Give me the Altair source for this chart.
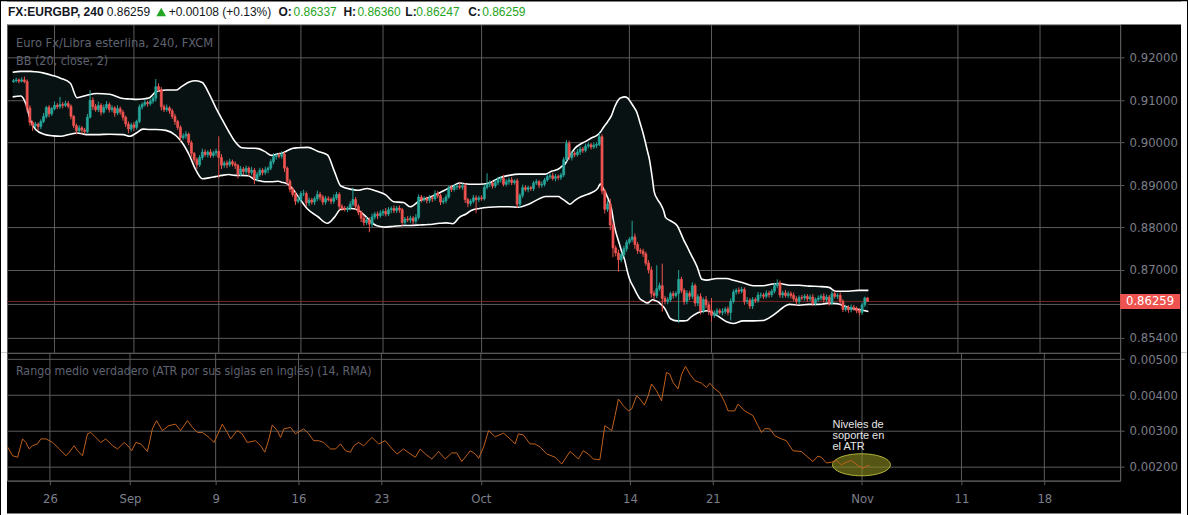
import altair as alt
import pandas as pd

# ---------------- data ----------------
FIRST_BAR = -15          # bar index of first visible 4h candle (bar 0 = Mon 26 Aug)
FIRST_OPEN = 9144        # open of the first candle, in pips (x1e-4)

# closes in pips (price * 10000), one per 4h bar, bars -15 .. 297
close_pips = [
    9146, 9148, 9145, 9148, 9144, 9082, 9048, 9040, 9044, 9038,
    9050, 9062, 9083, 9068, 9080, 9088, 9085, 9090, 9088, 9092,
    9086, 9062, 9040, 9028, 9035, 9030, 9026, 9060, 9100, 9085,
    9078, 9088, 9072, 9083, 9090, 9078, 9082, 9070, 9080, 9072,
    9060, 9044, 9032, 9042, 9036, 9050, 9084, 9090, 9095, 9092,
    9098, 9105, 9132, 9125, 9085, 9078, 9082, 9075, 9062, 9050,
    9036, 9012, 9016, 9020, 9000, 8975, 8960, 8948, 8965, 8978,
    8972, 8978, 8970, 8976, 8980, 8965, 8947, 8952, 8948, 8955,
    8950, 8946, 8926, 8938, 8932, 8940, 8930, 8935, 8915, 8925,
    8935, 8930, 8936, 8940, 8955, 8967, 8970, 8968, 8973, 8940,
    8909, 8890, 8878, 8862, 8866, 8880, 8880, 8858, 8865, 8860,
    8868, 8878, 8872, 8860, 8868, 8866, 8862, 8870, 8878, 8850,
    8845, 8843, 8846, 8855, 8866, 8850, 8836, 8822, 8812, 8818,
    8808, 8825, 8832, 8828, 8834, 8838, 8832, 8842, 8845, 8840,
    8846, 8842, 8812, 8820, 8818, 8822, 8815, 8824, 8872, 8866,
    8868, 8864, 8870, 8868, 8880, 8875, 8860, 8863, 8872, 8894,
    8890, 8896, 8898, 8895, 8899, 8866, 8857, 8862, 8870, 8866,
    8870, 8868, 8895, 8902, 8905, 8898, 8906, 8914, 8916, 8902,
    8908, 8912, 8906, 8910, 8855, 8876, 8894, 8890, 8894, 8892,
    8905, 8908, 8900, 8902, 8912, 8920, 8922, 8916, 8920, 8918,
    8924, 8960, 8998, 8965, 8975, 8972, 8978, 8985, 8982, 8992,
    8995, 8990, 8994, 8996, 9014, 8886, 8843, 8856, 8806, 8752,
    8740, 8724, 8736, 8750, 8765, 8772, 8778, 8760, 8746, 8744,
    8738, 8716, 8700, 8645, 8640, 8656, 8663, 8633, 8626, 8630,
    8644, 8640, 8645, 8678, 8652, 8626, 8645, 8638, 8663, 8622,
    8637, 8604, 8630, 8618, 8604, 8593, 8598, 8604, 8600, 8602,
    8608, 8600, 8626, 8648, 8652, 8650, 8654, 8626, 8628, 8615,
    8630, 8628, 8641, 8641, 8638, 8645, 8642, 8650, 8663, 8669,
    8641, 8646, 8640, 8644, 8640, 8632, 8626, 8635, 8634, 8638,
    8632, 8636, 8622, 8630, 8634, 8638, 8630, 8636, 8622, 8644,
    8638, 8640, 8626, 8607, 8612, 8606, 8612, 8609, 8604, 8600,
    8618, 8634, 8626,
]
# wick lengths beyond the body, in pips
upper_wick = [
    4, 5, 3, 6, 8, 5, 6, 4, 5, 3,
    5, 8, 4, 6, 4, 9, 5, 18, 6, 7,
    6, 4, 3, 5, 6, 4, 5, 8, 24, 7,
    6, 9, 5, 7, 8, 5, 6, 4, 8, 5,
    5, 4, 6, 5, 7, 4, 6, 5, 7, 4,
    6, 5, 18, 8, 6, 5, 8, 4, 5, 6,
    4, 5, 6, 7, 4, 5, 3, 5, 6, 8,
    6, 4, 7, 5, 6, 35, 8, 5, 6, 7,
    5, 6, 4, 7, 5, 6, 4, 8, 5, 6,
    6, 5, 7, 4, 6, 8, 5, 6, 7, 5,
    4, 5, 6, 7, 8, 6, 9, 5, 6, 5,
    5, 9, 6, 5, 7, 6, 5, 8, 6, 5,
    5, 6, 4, 7, 28, 6, 5, 4, 6, 7,
    6, 8, 5, 6, 7, 5, 8, 6, 5, 7,
    5, 6, 4, 5, 7, 6, 5, 8, 6, 5,
    6, 5, 7, 5, 8, 6, 5, 7, 6, 5,
    5, 6, 5, 7, 5, 6, 4, 5, 7, 6,
    5, 6, 7, 26, 6, 5, 7, 6, 5, 8,
    6, 5, 7, 4, 6, 5, 7, 6, 5, 4,
    5, 6, 4, 7, 5, 6, 5, 7, 6, 5,
    5, 6, 8, 7, 6, 5, 7, 6, 5, 6,
    6, 5, 7, 5, 9, 6, 5, 8, 12, 8,
    6, 8, 5, 7, 6, 5, 38, 8, 6, 5,
    6, 5, 7, 8, 6, 55, 7, 52, 6, 6,
    5, 6, 5, 22, 6, 5, 7, 6, 8, 5,
    6, 8, 5, 9, 6, 30, 7, 6, 5, 8,
    5, 6, 7, 6, 5, 7, 6, 5, 8, 6,
    6, 5, 7, 6, 5, 7, 6, 5, 7, 9,
    6, 5, 7, 6, 5, 7, 6, 5, 6, 5,
    5, 6, 7, 5, 6, 5, 7, 6, 5, 6,
    6, 5, 7, 5, 6, 5, 7, 6, 5, 6,
    5, 3, 2,
]
lower_wick = [
    3, 4, 5, 3, 4, 10, 8, 12, 6, 9,
    6, 4, 5, 8, 5, 4, 6, 5, 7, 4,
    5, 7, 6, 8, 5, 9, 6, 4, 3, 8,
    5, 6, 8, 4, 5, 7, 6, 9, 5, 6,
    8, 7, 10, 6, 9, 5, 4, 6, 5, 7,
    5, 6, 8, 5, 9, 6, 5, 7, 6, 8,
    6, 8, 5, 7, 6, 9, 7, 10, 5, 6,
    5, 7, 6, 5, 8, 48, 9, 6, 8, 5,
    6, 8, 10, 5, 7, 6, 9, 6, 13, 7,
    5, 7, 6, 8, 5, 6, 7, 5, 6, 9,
    8, 7, 6, 9, 5, 7, 6, 8, 7, 6,
    7, 6, 8, 7, 6, 5, 7, 6, 5, 8,
    6, 5, 7, 6, 5, 8, 7, 9, 8, 6,
    19, 7, 6, 8, 5, 7, 6, 5, 8, 6,
    6, 7, 8, 6, 5, 7, 9, 6, 5, 7,
    5, 7, 6, 8, 5, 6, 7, 5, 6, 4,
    6, 5, 7, 5, 6, 8, 9, 6, 5, 32,
    6, 5, 4, 5, 7, 6, 5, 6, 8, 5,
    5, 7, 6, 5, 9, 8, 6, 5, 7, 6,
    6, 5, 7, 6, 5, 4, 6, 5, 7, 6,
    6, 5, 4, 6, 7, 6, 5, 7, 6, 5,
    5, 6, 5, 7, 4, 8, 10, 6, 12, 22,
    8, 28, 6, 5, 7, 5, 6, 10, 8, 6,
    7, 6, 8, 10, 9, 6, 5, 31, 7, 7,
    6, 7, 5, 70, 6, 8, 7, 9, 6, 8,
    7, 9, 6, 8, 10, 14, 6, 8, 5, 7,
    6, 7, 19, 5, 6, 7, 5, 8, 6, 7,
    7, 6, 5, 7, 6, 5, 7, 6, 5, 6,
    6, 7, 5, 6, 7, 5, 8, 6, 5, 6,
    6, 5, 7, 6, 5, 6, 7, 5, 6, 5,
    5, 6, 7, 6, 5, 7, 6, 5, 6, 7,
    6, 5, 1,
]

# Bollinger bands (20, close, 2): bar, upper, lower (pips)
bb_bar = [
    -15.3, -12.3, -10.5, -8.7, -6.9, -3.9, -0.5, 2.2, 5.8, 8.2,
    11.8, 15.4, 20.2, 25.1, 27.5, 29.9, 32.3, 34.7, 37.1, 40.7,
    44.3, 46.4, 49.2, 51.6, 54.0, 56.4, 58.8, 61.2, 63.6, 66.0,
    68.4, 70.8, 73.2, 74.4, 76.9, 79.3, 81.7, 82.9, 85.3, 87.1,
    88.9, 92.5, 96.1, 99.7, 102.2, 104.6, 108.5, 111.2, 114.2, 117.5,
    121.0, 123.9, 127.5, 129.9, 133.5, 136.5, 140.7, 143.1, 145.5, 147.9,
    150.3, 152.2, 155.2, 158.8, 162.4, 166.0, 169.6, 173.2, 176.8, 179.3,
    181.7, 184.1, 185.3, 186.5, 187.7, 188.3, 190.1, 192.5, 193.7, 196.1,
    198.5, 199.4, 200.3, 202.1, 203.4, 204.6, 206.4, 207.0, 208.2, 209.4,
    210.0, 211.8, 212.4, 214.2, 214.8, 216.6, 217.2, 218.4, 219.0, 220.2,
    221.4, 222.6, 223.2, 225.0, 227.4, 229.9, 231.1, 232.3, 234.7, 236.5,
    238.3, 241.9, 245.5, 247.9, 251.5, 255.2, 258.8, 262.4, 264.8, 266.0,
    268.4, 272.0, 275.6, 279.3, 282.9, 285.3, 286.5, 290.1, 293.7, 297.3,
]
bb_upper = [
    9166, 9168, 9168, 9168, 9167, 9164, 9158, 9152, 9140, 9106,
    9112, 9116, 9114, 9104, 9103, 9102, 9103, 9106, 9120, 9124,
    9124, 9132, 9143, 9146, 9142, 9116, 9084, 9055, 9027, 9002,
    8988, 8987, 8987, 8986, 8979, 8970, 8974, 8975, 8982, 8987,
    8988, 8989, 8980, 8971, 8933, 8898, 8890, 8888, 8892, 8886,
    8877, 8861, 8859, 8849, 8864, 8870, 8882, 8890, 8898, 8905,
    8903, 8902, 8902, 8905, 8917, 8923, 8926, 8926, 8926, 8926,
    8933, 8938, 8944, 8950, 8964, 8970, 8987, 8998, 9002, 9011,
    9019, 9025, 9034, 9050, 9063, 9084, 9104, 9106, 9108, 9105,
    9100, 9082, 9076, 9040, 9027, 8980, 8964, 8915, 8886, 8867,
    8855, 8838, 8824, 8816, 8805, 8770, 8755, 8739, 8708, 8678,
    8676, 8680, 8680, 8676, 8670, 8663, 8663, 8667, 8668, 8667,
    8664, 8664, 8662, 8661, 8659, 8650, 8650, 8650, 8652, 8652,
]
bb_lower = [
    9108, 9110, 9092, 9051, 9031, 9020, 9016, 9015, 9020, 9023,
    9019, 9019, 9020, 9019, 9015, 9023, 9032, 9031, 9031, 9029,
    9017, 9002, 8971, 8936, 8915, 8917, 8920, 8923, 8925, 8923,
    8923, 8922, 8913, 8911, 8908, 8908, 8909, 8907, 8902, 8890,
    8874, 8843, 8826, 8810, 8824, 8843, 8845, 8840, 8823, 8805,
    8801, 8803, 8805, 8805, 8806, 8807, 8810, 8811, 8809, 8824,
    8832, 8840, 8845, 8848, 8849, 8849, 8848, 8855, 8867, 8873,
    8873, 8873, 8868, 8863, 8857, 8855, 8864, 8873, 8876, 8882,
    8893, 8903, 8894, 8870, 8845, 8801, 8760, 8747, 8725, 8693,
    8680, 8656, 8648, 8630, 8628, 8622, 8624, 8630, 8629, 8626,
    8620, 8612, 8606, 8585, 8580, 8580, 8581, 8588, 8598, 8602,
    8604, 8593, 8578, 8574, 8580, 8580, 8581, 8593, 8605, 8611,
    8619, 8617, 8619, 8619, 8622, 8621, 8620, 8611, 8607, 8602,
]

# ATR (14, RMA): bar, value (x1e-5)
atr_bar = [
    -15.3, -13.5, -11.7, -9.9, -8.7, -7.5, -6.3, -4.5, -3.3, -1.4,
    1.0, 3.4, 5.8, 7.0, 8.8, 10.0, 11.8, 13.6, 14.8, 16.6,
    18.4, 20.2, 22.7, 24.5, 26.9, 28.7, 29.6, 31.1, 32.9, 35.3,
    37.1, 38.6, 40.7, 43.1, 45.5, 47.3, 49.8, 51.6, 53.4, 55.2,
    57.6, 59.4, 62.4, 64.2, 65.4, 67.8, 69.6, 71.4, 74.4, 76.3,
    77.8, 79.3, 80.5, 82.3, 83.5, 84.7, 87.1, 88.9, 91.9, 93.7,
    95.5, 97.3, 99.1, 101.6, 103.4, 105.2, 107.0, 108.8, 110.0, 111.8,
    113.6, 116.6, 119.0, 121.4, 123.9, 125.7, 128.0, 130.5, 132.3, 134.1,
    135.9, 138.3, 140.7, 143.1, 145.5, 147.3, 149.1, 152.2, 154.0, 155.2,
    157.0, 158.8, 161.2, 164.2, 166.6, 168.4, 169.6, 171.4, 173.8, 175.6,
    177.5, 179.9, 182.9, 185.3, 188.3, 190.1, 191.3, 193.1, 194.9, 196.7,
    199.1, 200.9, 203.4, 204.6, 205.8, 207.6, 209.4, 210.6, 212.4, 213.6,
    215.2, 216.6, 217.8, 219.6, 221.4, 223.2, 224.4, 225.6, 227.4, 228.7,
    230.1, 231.7, 233.5, 235.9, 237.7, 238.9, 240.7, 242.5, 244.3, 245.5,
    247.9, 249.1, 251.5, 254.5, 256.3, 257.6, 258.8, 260.6, 262.4, 264.8,
    266.6, 269.0, 272.0, 273.8, 276.2, 278.0, 279.3, 281.1, 282.9, 284.7,
    286.5, 288.3, 290.1, 292.5, 294.3, 295.5, 296.7,
]
atr_val = [
    255, 231, 227, 278, 268, 250, 259, 264, 278, 278,
    268, 250, 231, 241, 259, 245, 231, 292, 296, 282,
    268, 278, 259, 250, 268, 255, 245, 268, 264, 243,
    306, 329, 301, 315, 319, 301, 329, 310, 296, 296,
    282, 268, 319, 296, 278, 301, 292, 268, 273, 259,
    241, 278, 317, 301, 282, 306, 310, 292, 306, 292,
    273, 273, 268, 250, 250, 264, 245, 241, 259, 268,
    259, 282, 264, 273, 250, 236, 250, 236, 227, 250,
    236, 222, 243, 222, 239, 239, 215, 245, 236, 224,
    255, 301, 284, 294, 278, 264, 292, 289, 264, 264,
    255, 236, 227, 208, 243, 231, 222, 245, 236, 222,
    220, 315, 301, 343, 389, 370, 356, 361, 398, 389,
    372, 398, 431, 412, 384, 463, 458, 435, 417, 458,
    480, 458, 440, 433, 421, 433, 417, 407, 380, 356,
    356, 375, 356, 343, 315, 296, 307, 306, 287, 278,
    273, 245, 243, 231, 215, 230, 227, 211, 213, 218,
    206, 213, 218, 204, 196, 202, 204,
]

x_tick_bars = [0, 29, 60, 90, 120, 156, 210, 240, 294, 330, 360]
x_tick_labels = ["26", "Sep", "9", "16", "23", "Oct", "14", "21", "Nov", "11", "18"]
price_ticks = [0.92, 0.91, 0.90, 0.89, 0.88, 0.87, 0.862, 0.854]
hidden_price_tick = 0.862        # its label sits under the last-price marker
atr_ticks = [0.005, 0.004, 0.003, 0.002]
last_price = 0.86259
note_bar, note_atr = 283.3, 0.00334        # annotation text anchor
ellipse_bar, ellipse_atr = 293.8, 0.00206  # highlighted ATR support zone

assert len(close_pips) == len(upper_wick) == len(lower_wick)
assert len(bb_bar) == len(bb_upper) == len(bb_lower)
assert len(atr_bar) == len(atr_val)

# ---------------- frames ----------------
rows = []
prev = FIRST_OPEN
for i, c in enumerate(close_pips):
    o = prev
    rows.append(dict(
        bar=FIRST_BAR + i, open=o / 1e4, close=c / 1e4,
        high=(max(o, c) + upper_wick[i]) / 1e4,
        low=(min(o, c) - lower_wick[i]) / 1e4,
        dir="up" if c >= o else "down"))
    prev = c
candles = pd.DataFrame(rows)
bb = pd.DataFrame({"bar": bb_bar, "upper": [v / 1e4 for v in bb_upper],
                   "lower": [v / 1e4 for v in bb_lower]})
atr = pd.DataFrame({"bar": atr_bar, "atr": [v / 1e5 for v in atr_val]})
ticks = pd.DataFrame({"bar": x_tick_bars})
lastp = pd.DataFrame({"price": [last_price]})
note = pd.DataFrame({"bar": [note_bar], "atr": [note_atr]})
ell = pd.DataFrame({"bar": [ellipse_bar], "atr": [ellipse_atr]})
one = pd.DataFrame({"k": [0]})

# ---------------- style ----------------
W, H_MAIN, H_ATR = 1115, 329, 128
GRID = "#5c5c5c"
AXTXT = "#7c7f8a"
TITLETXT = "#5f6370"
UP, DOWN = "#26a69a", "#ef5350"
HDR_GREEN = "#24a524"
FONT = "Liberation Sans"
NARROW = "Liberation Sans Narrow, DejaVu Sans Condensed, sans-serif"

xs = alt.Scale(domain=[-15.54, 387.43], nice=False, zero=False)
ys = alt.Scale(domain=[0.85047, 0.92788], nice=False, zero=False)
ya = alt.Scale(domain=[0.001619, 0.005175], nice=False, zero=False)
col = alt.Scale(domain=["up", "down"], range=[UP, DOWN])

yaxis_main = alt.Axis(orient="right", values=price_ticks, format=".5f", title=None,
                      labelExpr="abs(datum.value - %s) < 1e-9 ? '' : datum.label" % hidden_price_tick,
                      grid=True, gridColor=GRID, gridWidth=1, domainColor=GRID,
                      tickColor=GRID, tickSize=4, labelPadding=5, labelColor=AXTXT,
                      labelFont=NARROW, labelFontSize=13, labelOverlap=False)
yaxis_atr = alt.Axis(orient="right", values=atr_ticks, format=".5f", title=None,
                     grid=True, gridColor=GRID, gridWidth=1, domainColor=GRID,
                     tickColor=GRID, tickSize=4, labelPadding=5, labelColor=AXTXT,
                     labelFont=NARROW, labelFontSize=13, labelOverlap=False)
lbl_expr = "[{}][indexof([{}], datum.value)]".format(
    ",".join("'%s'" % s for s in x_tick_labels), ",".join(str(v) for v in x_tick_bars))
xaxis_atr = alt.Axis(values=x_tick_bars, labelExpr=lbl_expr, title=None, grid=False,
                     domainColor=GRID, tickColor=GRID, tickSize=4, labelPadding=8,
                     labelColor=AXTXT, labelFont=NARROW, labelFontSize=13,
                     labelOverlap=False)


def txt(s, x, y, color, size=12, weight="normal", font=FONT, align="left", baseline="middle"):
    return alt.Chart(one).mark_text(
        text=s, align=align, baseline=baseline, font=font, fontSize=size,
        fontWeight=weight, color=color).encode(x=alt.value(x), y=alt.value(y))


def box(x1, x2, y1, y2, color):
    return alt.Chart(one).mark_rect(color=color).encode(
        x=alt.value(x1), x2=alt.value(x2), y=alt.value(y1), y2=alt.value(y2))


X = lambda f="bar": alt.X(f + ":Q", scale=xs, axis=None, title=None)

# ---------------- main panel ----------------
vgrid_main = alt.Chart(ticks).mark_rule(color=GRID, strokeWidth=1).encode(x=X())
bb_fill = alt.Chart(bb).mark_area(color="#081212", interpolate="monotone").encode(
    x=X(), y=alt.Y("upper:Q", scale=ys, axis=yaxis_main, title=None), y2="lower:Q")
price_line = alt.Chart(lastp).mark_rule(color="#7a2727", strokeWidth=1).encode(
    y=alt.Y("price:Q", scale=ys, axis=yaxis_main, title=None))
bb_up = alt.Chart(bb).mark_line(color="white", strokeWidth=1.6, interpolate="monotone").encode(
    x=X(), y=alt.Y("upper:Q", scale=ys, axis=yaxis_main, title=None))
bb_lo = alt.Chart(bb).mark_line(color="white", strokeWidth=1.6, interpolate="monotone").encode(
    x=X(), y=alt.Y("lower:Q", scale=ys, axis=yaxis_main, title=None))
wicks = alt.Chart(candles).mark_rule(strokeWidth=1).encode(
    x=X(), y=alt.Y("low:Q", scale=ys, axis=yaxis_main, title=None), y2="high:Q",
    color=alt.Color("dir:N", scale=col, legend=None))
bodies = alt.Chart(candles).mark_bar(size=2.0, strokeWidth=0.7).encode(
    x=X(), y=alt.Y("open:Q", scale=ys, axis=yaxis_main, title=None), y2="close:Q",
    color=alt.Color("dir:N", scale=col, legend=None),
    stroke=alt.Stroke("dir:N", scale=col, legend=None))
price_box = alt.Chart(lastp).mark_point(
    shape="M-1,-0.25L1,-0.25L1,0.25L-1,0.25Z", size=3600, filled=True,
    fill=DOWN, stroke=DOWN, strokeWidth=0, opacity=1).encode(
    x=alt.value(1145), y=alt.Y("price:Q", scale=ys, axis=yaxis_main, title=None))
price_txt = alt.Chart(lastp).mark_text(
    color="white", font=NARROW, fontSize=13, align="center", baseline="middle").encode(
    x=alt.value(1145), y=alt.Y("price:Q", scale=ys, axis=yaxis_main, title=None),
    text=alt.Text("price:Q", format=".5f"))

header = [
    box(-6, 1182, -23, 0, "white"),
    box(-6, 0, -23, H_MAIN, "white"),
    box(1176, 1182, -23, H_MAIN, "white"),
    txt("FX:EURGBP, 240", 1, -12, "#131722", 12, "bold"),
    txt("0.86259", 100, -12, "#131722", 12),
    alt.Chart(one).mark_point(shape="triangle-up", size=95, filled=True, color=HDR_GREEN,
                              opacity=1).encode(x=alt.value(154.5), y=alt.value(-12.5)),
    txt("+0.00108 (+0.13%)", 162, -12, "#131722", 12),
    txt("O:", 272, -12, "#131722", 12, "bold"),
    txt("0.86337", 287, -12, HDR_GREEN, 12),
    txt("H:", 337, -12, "#131722", 12, "bold"),
    txt("0.86360", 351, -12, HDR_GREEN, 12),
    txt("L:", 399, -12, "#131722", 12, "bold"),
    txt("0.86247", 410, -12, HDR_GREEN, 12),
    txt("C:", 462, -12, "#131722", 12, "bold"),
    txt("0.86259", 476, -12, HDR_GREEN, 12),
]

main = alt.layer(
    vgrid_main, bb_fill, price_line, bb_up, bb_lo, wicks, bodies,
    txt("Euro Fx/Libra esterlina, 240, FXCM", 9, 19, TITLETXT, 12.8, font=NARROW),
    txt("BB (20, close, 2)", 9, 37, TITLETXT, 12.5, font=NARROW),
    price_box, price_txt, *header,
).properties(width=W, height=H_MAIN)

# ---------------- ATR panel ----------------
XA = alt.X("bar:Q", scale=xs, axis=xaxis_atr, title=None)
vgrid_atr = alt.Chart(ticks).mark_rule(color=GRID, strokeWidth=1).encode(x=XA)
ellipse = alt.Chart(ell).mark_point(
    shape="M-1,0A1,0.38,0,1,0,1,0A1,0.38,0,1,0,-1,0Z", size=3364, filled=True,
    fill="#8e8e22", fillOpacity=0.6, stroke="#b4b43a", strokeWidth=1, opacity=1).encode(
    x=XA, y=alt.Y("atr:Q", scale=ya, axis=yaxis_atr, title=None))
atr_line = alt.Chart(atr).mark_line(color="#c0601c", strokeWidth=1).encode(
    x=XA, y=alt.Y("atr:Q", scale=ya, axis=yaxis_atr, title=None))
note_txt = alt.Chart(note).mark_text(
    text="Niveles de\nsoporte en\nel ATR", lineBreak="\n", lineHeight=11, align="left",
    baseline="top", color="#e6e6e6", font=FONT, fontSize=11).encode(
    x=XA, y=alt.Y("atr:Q", scale=ya, axis=yaxis_atr, title=None))

atr_panel = alt.layer(
    vgrid_atr, ellipse, atr_line, note_txt,
    txt("Rango medio verdadero (ATR por sus siglas en inglés) (14, RMA)", 9, 18, TITLETXT,
        12.3, font=NARROW),
    box(-6, 0, 0, 163, "white"),
    box(1176, 1182, 0, 163, "white"),
    box(-6, 1182, 161, 163, "white"),
).properties(width=W, height=H_ATR)

chart = alt.vconcat(main, atr_panel, spacing=0, bounds="flush").properties(
    padding=0
).configure(background="black").configure_view(stroke=GRID, strokeWidth=1)

chart.save("out.html", embed_options={"renderer": "svg", "actions": False})
